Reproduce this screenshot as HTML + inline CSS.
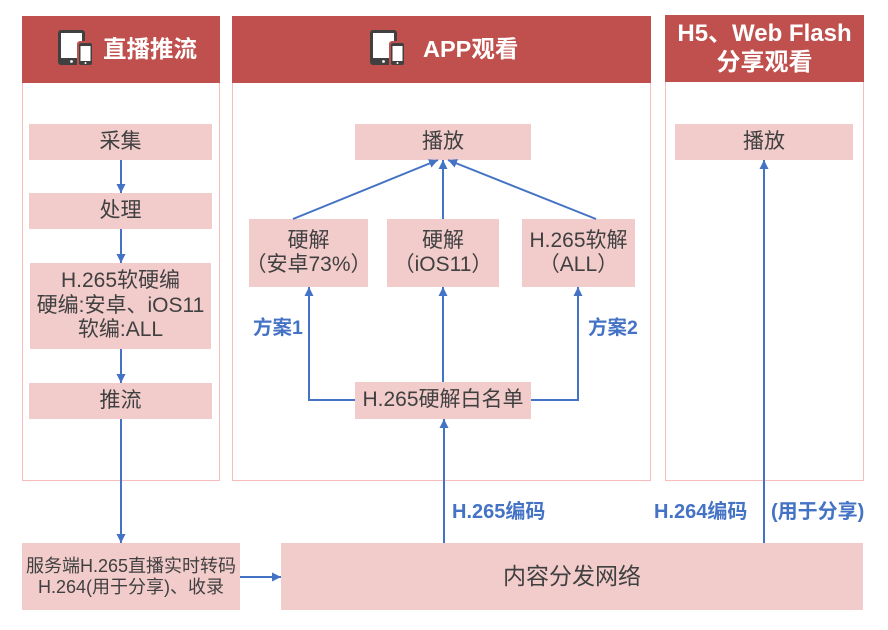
<!DOCTYPE html>
<html><head><meta charset="utf-8">
<style>
html,body{margin:0;padding:0;background:#fff;}
body{width:888px;height:630px;position:relative;overflow:hidden;font-family:"Liberation Sans","Noto Sans CJK SC",sans-serif;}
.col{position:absolute;border:1px solid #f7bcbc;box-sizing:border-box;}
.hd{position:absolute;background:#c0504d;color:#fff;font-weight:bold;font-size:23.5px;text-align:center;box-sizing:border-box;white-space:nowrap;}
.bx{position:absolute;background:#f2cbcb;color:#404040;font-size:21px;text-align:center;display:flex;align-items:center;justify-content:center;line-height:24.5px;box-sizing:border-box;white-space:nowrap;}
.lb{position:absolute;color:#4472c4;font-weight:bold;white-space:nowrap;line-height:24px;}
svg{position:absolute;left:0;top:0;}
</style></head><body>
<div class="col" style="left:22px;top:16px;width:198px;height:465px;"></div>
<div class="col" style="left:232px;top:16px;width:419px;height:465px;"></div>
<div class="col" style="left:665px;top:15px;width:199px;height:466px;"></div>

<div class="hd" style="left:22px;top:16px;width:198px;height:67px;line-height:67px;text-align:left;padding-left:81px;">直播推流</div>
<div class="hd" style="left:232px;top:16px;width:419px;height:67px;line-height:67px;text-align:left;padding-left:191px;">APP观看</div>
<div class="hd" style="left:665px;top:15px;width:199px;height:67px;line-height:29px;padding-top:4px;font-size:24px;">H5、Web Flash<br>分享观看</div>

<div class="bx" style="left:29px;top:124px;width:183px;height:36px;">采集</div>
<div class="bx" style="left:29px;top:193px;width:183px;height:36px;">处理</div>
<div class="bx" style="left:30px;top:263px;width:181px;height:86px;">H.265软硬编<br>硬编:安卓、iOS11<br>软编:ALL</div>
<div class="bx" style="left:29px;top:383px;width:183px;height:36px;">推流</div>

<div class="bx" style="left:355px;top:124px;width:176px;height:36px;">播放</div>
<div class="bx" style="left:249px;top:219px;width:119px;height:68px;line-height:24px;">硬解<br>（安卓73%）</div>
<div class="bx" style="left:387px;top:219px;width:112px;height:68px;line-height:24px;">硬解<br>（iOS11）</div>
<div class="bx" style="left:522px;top:219px;width:113px;height:68px;line-height:24px;">H.265软解<br>（ALL）</div>
<div class="bx" style="left:355px;top:382px;width:176px;height:37px;">H.265硬解白名单</div>

<div class="bx" style="left:675px;top:124px;width:178px;height:36px;">播放</div>

<div class="bx" style="left:22px;top:543px;width:218px;height:67px;font-size:18px;line-height:21px;">服务端H.265直播实时转码<br>H.264(用于分享)、收录</div>
<div class="bx" style="left:281px;top:543px;width:582px;height:67px;font-size:23px;">内容分发网络</div>

<div class="lb" style="left:253px;top:316px;font-size:19.5px;">方案1</div>
<div class="lb" style="left:588px;top:316px;font-size:19.5px;">方案2</div>
<div class="lb" style="left:452px;top:500px;font-size:20px;">H.265编码</div>
<div class="lb" style="left:654px;top:500px;font-size:20px;">H.264编码</div>
<div class="lb" style="left:771px;top:500px;font-size:20px;">(用于分享)</div>

<svg width="888" height="630" viewBox="0 0 888 630">
<defs>
<marker id="a" viewBox="0 0 10 10" refX="10" refY="5" markerWidth="9" markerHeight="9" markerUnits="userSpaceOnUse" orient="auto">
<path d="M0,0 L10,5 L0,10 z" fill="#4472c4"/>
</marker>
</defs>
<g stroke="#4472c4" stroke-width="2" fill="none">
<line x1="121" y1="160" x2="121" y2="193" marker-end="url(#a)"/>
<line x1="121" y1="229" x2="121" y2="263" marker-end="url(#a)"/>
<line x1="121" y1="349" x2="121" y2="383" marker-end="url(#a)"/>
<line x1="121" y1="419" x2="121" y2="543" marker-end="url(#a)"/>
<line x1="240" y1="577" x2="281" y2="577" marker-end="url(#a)"/>
<line x1="444" y1="543" x2="444" y2="419" marker-end="url(#a)"/>
<line x1="764" y1="543" x2="764" y2="160" marker-end="url(#a)"/>
<line x1="443" y1="382" x2="443" y2="287" marker-end="url(#a)"/>
<polyline points="355,400 309,400 309,287" marker-end="url(#a)"/>
<polyline points="531,400 578,400 578,287" marker-end="url(#a)"/>
<line x1="293" y1="219" x2="438" y2="160" marker-end="url(#a)"/>
<line x1="443" y1="219" x2="443" y2="160" marker-end="url(#a)"/>
<line x1="596" y1="219" x2="448" y2="160" marker-end="url(#a)"/>
</g>
<g>
<rect x="58" y="30" width="27" height="35" rx="3" fill="#404040"/>
<rect x="61" y="33" width="21" height="25" fill="#fff"/>
<circle cx="71.5" cy="61.5" r="1.4" fill="#fff"/>
<rect x="77" y="41" width="17" height="27" rx="3" fill="#c0504d"/>
<rect x="79" y="43" width="13" height="22" rx="2" fill="#404040"/>
<rect x="80.5" y="46" width="10" height="15" fill="#fff"/>
<circle cx="85.5" cy="63" r="1" fill="#fff"/>
</g>
<g transform="translate(312,0)">
<rect x="58" y="30" width="27" height="35" rx="3" fill="#404040"/>
<rect x="61" y="33" width="21" height="25" fill="#fff"/>
<circle cx="71.5" cy="61.5" r="1.4" fill="#fff"/>
<rect x="77" y="41" width="17" height="27" rx="3" fill="#c0504d"/>
<rect x="79" y="43" width="13" height="22" rx="2" fill="#404040"/>
<rect x="80.5" y="46" width="10" height="15" fill="#fff"/>
<circle cx="85.5" cy="63" r="1" fill="#fff"/>
</g>
</svg>
</body></html>
